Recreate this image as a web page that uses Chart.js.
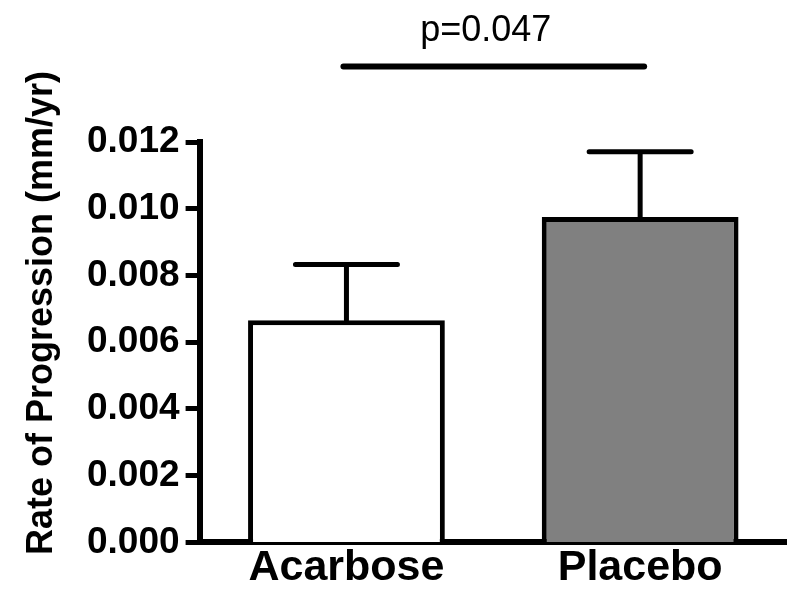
<!DOCTYPE html>
<html>
<head>
<meta charset="utf-8">
<script src="https://cdn.jsdelivr.net/npm/chart.js@4.4.0/dist/chart.umd.min.js"></script>
<style>
  html, body { margin: 0; padding: 0; background: #fff; }
  #wrap { width: 787px; height: 594px; }
</style>
</head>
<body>
<div id="wrap"><canvas id="mycanvas" width="787" height="594"></canvas></div>
<script>
// data
var groups = ["Acarbose", "Placebo"];
var rate_mean = [0.00666, 0.00975];
var rate_sem = [0.00167, 0.00196];
var bar_colors = ["#ffffff", "#808080"];
var y_ticks = [0.000, 0.002, 0.004, 0.006, 0.008, 0.010, 0.012];
var p_text = "p=0.047";
var p_level = 0.01426;
var y_title = "Rate of Progression (mm/yr)";

var FONT = "Arial, 'Liberation Sans', sans-serif";

// error bars + significance line
var extras = {
  id: "extras",
  afterDatasetsDraw: function(chart) {
    var ctx = chart.ctx;
    var x = chart.scales.x, y = chart.scales.y;
    ctx.save();
    ctx.strokeStyle = "#000";
    ctx.lineCap = "round";
    ctx.lineWidth = 5;
    for (var i = 0; i < groups.length; i++) {
      var cx = x.getPixelForValue(i);
      var y0 = y.getPixelForValue(rate_mean[i]);
      var y1 = y.getPixelForValue(rate_mean[i] + rate_sem[i]);
      ctx.beginPath();
      ctx.moveTo(cx, y0);
      ctx.lineTo(cx, y1);
      ctx.moveTo(cx - 51, y1);
      ctx.lineTo(cx + 51, y1);
      ctx.stroke();
    }
    // p value bar
    var xa = x.getPixelForValue(0) - 3, xb = x.getPixelForValue(1) + 4;
    var py = y.getPixelForValue(p_level);
    ctx.lineWidth = 6;
    ctx.beginPath();
    ctx.moveTo(xa, py);
    ctx.lineTo(xb, py);
    ctx.stroke();
    ctx.fillStyle = "#000";
    ctx.font = "36px " + FONT;
    ctx.textAlign = "center";
    ctx.textBaseline = "alphabetic";
    ctx.fillText(p_text, (xa + xb) / 2 - 8, py - 26);

    // y axis title
    ctx.translate(52, 313);
    ctx.rotate(-Math.PI / 2);
    ctx.font = "bold 36px " + FONT;
    ctx.fillText(y_title, 0, 0);
    ctx.restore();
  }
};

var chartdata = {
  labels: groups,
  datasets: [
    {
      label: "rate",
      data: rate_mean,
      backgroundColor: bar_colors,
      borderColor: "#000",
      borderWidth: 5,
      borderSkipped: "bottom",
      categoryPercentage: 1.0,
      barPercentage: 0.67
    }
  ]
};

var ctx = document.getElementById("mycanvas");

var BarGraph = new Chart(ctx, {
  type: "bar",
  data: chartdata,
  plugins: [extras],
  options: {
    responsive: false,
    animation: false,
    events: [],
    layout: { padding: { left: 81, top: 142, right: 0, bottom: 0 } },
    plugins: {
      legend: { display: false },
      tooltip: { enabled: false }
    },
    scales: {
      x: {
        grid: { display: false, drawTicks: false },
        border: { display: true, width: 6, color: "#000" },
        ticks: {
          color: "#000",
          padding: 0,
          font: { family: FONT, size: 43, weight: "bold" }
        }
      },
      y: {
        min: 0,
        max: 0.012,
        afterBuildTicks: function(scale) {
          scale.ticks = y_ticks.map(function(v) { return { value: v }; });
        },
        grid: {
          drawOnChartArea: false,
          drawTicks: true,
          tickLength: 14,
          tickWidth: 5,
          tickColor: "#000"
        },
        border: { display: true, width: 6, color: "#000" },
        ticks: {
          color: "#000",
          padding: 6,
          font: { family: FONT, size: 37, weight: "bold" },
          callback: function(v) { return Number(v).toFixed(3); }
        }
      }
    }
  }
});
</script>
</body>
</html>
